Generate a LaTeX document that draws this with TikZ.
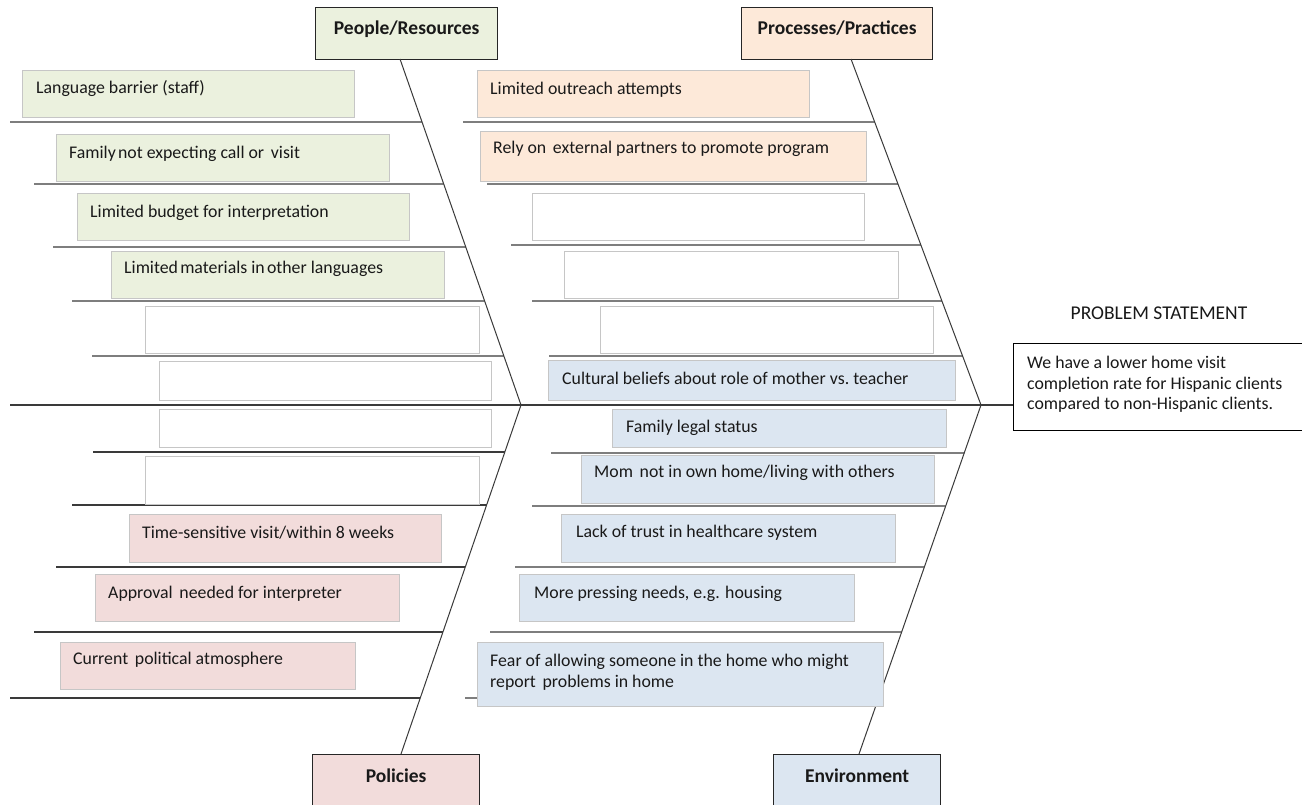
\documentclass[tikz,border=0pt]{standalone}
\usepackage{fontspec}
\setmainfont{Carlito}
\usetikzlibrary{calc}

\definecolor{peoplefill}{HTML}{EBF1DE}
\definecolor{processfill}{HTML}{FDE9D9}
\definecolor{policyfill}{HTML}{F2DCDB}
\definecolor{envfill}{HTML}{DCE6F1}
\definecolor{boxline}{HTML}{C6C6C6}
\definecolor{ribline}{HTML}{3A3A3A}

\newcommand{\bodyfont}{\fontsize{17.8}{20.5}\selectfont}
\newcommand{\headfont}{\fontsize{19.5}{22}\selectfont\bfseries}
% a slightly wider word gap
\newcommand{\wgap}{\hspace{0.15em}}

\tikzset{
  cause/.style={draw=boxline, line width=1.2pt, inner sep=0pt, anchor=north west},
  header/.style={draw=black!85, line width=1.3pt, inner sep=0pt, anchor=north west},
  lbl/.style={anchor=base west, inner sep=0pt, font=\bodyfont, text=black!90},
  multilbl/.style={anchor=north west, align=left, inner sep=0pt, font=\bodyfont, text=black!90},
  hlbl/.style={anchor=base, inner sep=0pt, font=\headfont, text=black!90},
  rib/.style={draw=ribline, line width=1.3pt},
  spine/.style={draw=ribline, line width=1pt},
}

% cause box: #1 name, #2 fill, #3 x, #4 y, #5 width, #6 height
\newcommand{\causebox}[6]{%
  \node[cause, fill=#2, minimum width=#5, minimum height=#6] (#1) at (#3,#4) {};}
% text inside a box: #1 name, #2 box, #3 x offset, #4 baseline offset, #5 text
\newcommand{\causetext}[5]{%
  \node[lbl] (#1) at ($(#2.north west)+(#3,#4)$) {#5};}

\begin{document}
\begin{tikzpicture}[x=1pt, y=-1pt]
\clip (0,0) rectangle (1302,804);
\fill[white] (0,0) rectangle (1302,804);

% category headers
\node[header, fill=peoplefill, minimum width=182, minimum height=52] (ppl) at (315,7) {};
\node[header, fill=processfill, minimum width=191, minimum height=52] (proc) at (741,7) {};
\node[header, fill=policyfill, minimum width=167, minimum height=70] (pol) at (312,754) {};
\node[header, fill=envfill, minimum width=167, minimum height=70] (env) at (773,754) {};
\node[hlbl] (pplT) at ($(ppl.north)+(0,27)$) {People/Resources};
\node[hlbl] (procT) at ($(proc.north)+(0,27)$) {Processes/Practices};
\node[hlbl] (polT) at ($(pol.north)+(0,28)$) {Policies};
\node[hlbl] (envT) at ($(env.north)+(0,28)$) {Environment};

% spine end points on the headers and the two chevron tips
\coordinate (pplS) at (400,59);
\coordinate (procS) at (851,59);
\coordinate (polS) at (401,754);
\coordinate (envS) at (859,754);
\coordinate (tipL) at (521,405);
\coordinate (tipR) at (981,405);
\coordinate (mainStart) at (10,405);

% problem statement
\node[anchor=base, inner sep=0pt, font=\fontsize{19.5}{22}\selectfont, text=black!90] (psT) at (1159,319) {PROBLEM STATEMENT};
\node[draw=black, line width=1.2pt, fill=white, anchor=north west, minimum width=289, minimum height=87, inner sep=0pt] (ps) at (1013,343) {};
\node[multilbl] (psText) at (1027,356)
  {We have a lower home visit\\completion rate for Hispanic clients\\compared to non-Hispanic clients.};

% chevrons and main line
\draw[spine] (pplS) -- (tipL) -- (polS);
\draw[spine] (procS) -- (tipR) -- (envS);
\draw[rib] (mainStart) -- (ps.west |- mainStart);

% ribs on the left chevron
\foreach \y/\x in {122/10, 184/34, 247/53, 301/72, 356/92}{
  \draw[rib] (\x,\y) -- (intersection of pplS--tipL and \x,\y--1000,\y);
}
\foreach \y/\x in {452/93, 505/72, 567/56, 632/34, 698/10}{
  \draw[rib] (\x,\y) -- (intersection of polS--tipL and \x,\y--1000,\y);
}
% ribs on the right chevron
\foreach \y/\x in {122/463, 184/487, 245/511, 301/532, 356/549}{
  \draw[rib] (\x,\y) -- (intersection of procS--tipR and \x,\y--1200,\y);
}
\foreach \y/\x in {453/551, 506/532, 567/515, 632/490, 698/465}{
  \draw[rib] (\x,\y) -- (intersection of envS--tipR and \x,\y--1200,\y);
}

% People/Resources causes
\causebox{p1}{peoplefill}{22}{70}{332}{47}
\causebox{p2}{peoplefill}{56}{134}{333}{47}
\causebox{p3}{peoplefill}{77}{193}{332}{47}
\causebox{p4}{peoplefill}{111}{251}{333}{47}
\causebox{p5}{white}{145}{306}{334}{47}
\causebox{p6}{white}{159}{361}{332}{39}
\causetext{p1t}{p1}{14}{23}{Language barrier (staff)}
\causetext{p2t}{p2}{13}{24}{Family\hspace{-0.1em} not expecting call or\wgap{} visit}
\causetext{p3t}{p3}{13}{24}{Limited budget for interpretation}
\causetext{p4t}{p4}{13}{22}{Limited\hspace{-0.1em} materials in\hspace{-0.1em} other languages}

% Policies causes
\causebox{q1}{white}{159}{409}{332}{38}
\causebox{q2}{white}{145}{456}{334}{48}
\causebox{q3}{policyfill}{129}{514}{312}{48}
\causebox{q4}{policyfill}{95}{574}{304}{47}
\causebox{q5}{policyfill}{60}{642}{295}{47}
\causetext{q3t}{q3}{13}{24}{Time-sensitive visit/within 8 weeks}
\causetext{q4t}{q4}{13}{24}{Approval\wgap{} needed for interpreter}
\causetext{q5t}{q5}{13}{22}{Current\wgap{} political atmosphere}

% Processes/Practices causes
\causebox{r1}{processfill}{477}{70}{332}{47}
\causebox{r2}{processfill}{480}{131}{386}{50}
\causebox{r3}{white}{532}{193}{332}{47}
\causebox{r4}{white}{564}{251}{334}{47}
\causebox{r5}{white}{600}{306}{333}{47}
\causetext{r1t}{r1}{13}{24}{Limited outreach attempts}
\causetext{r2t}{r2}{13}{22}{Rely on\wgap{} external partners to promote program}

% Environment causes
\causebox{e1}{envfill}{548}{360}{407}{40}
\causebox{e2}{envfill}{612}{409}{334}{38}
\causebox{e3}{envfill}{581}{455}{353}{48}
\causebox{e4}{envfill}{561}{514}{334}{48}
\causebox{e5}{envfill}{519}{574}{335}{47}
\causebox{e6}{envfill}{477}{642}{406}{64}
\causetext{e1t}{e1}{14}{24}{Cultural beliefs about role of mother vs.\ teacher}
\causetext{e2t}{e2}{14}{23}{Family legal status}
\causetext{e3t}{e3}{13}{22}{Mom\wgap{} not in own home/living with others}
\causetext{e4t}{e4}{15}{23}{Lack of trust in healthcare system}
\causetext{e5t}{e5}{15}{24}{More pressing needs, e.g. housing}
\node[multilbl] (e6t) at ($(e6.north west)+(13,12)$)
  {Fear of allowing someone in the home who might\\report\wgap{} problems in home};
\end{tikzpicture}
\end{document}
